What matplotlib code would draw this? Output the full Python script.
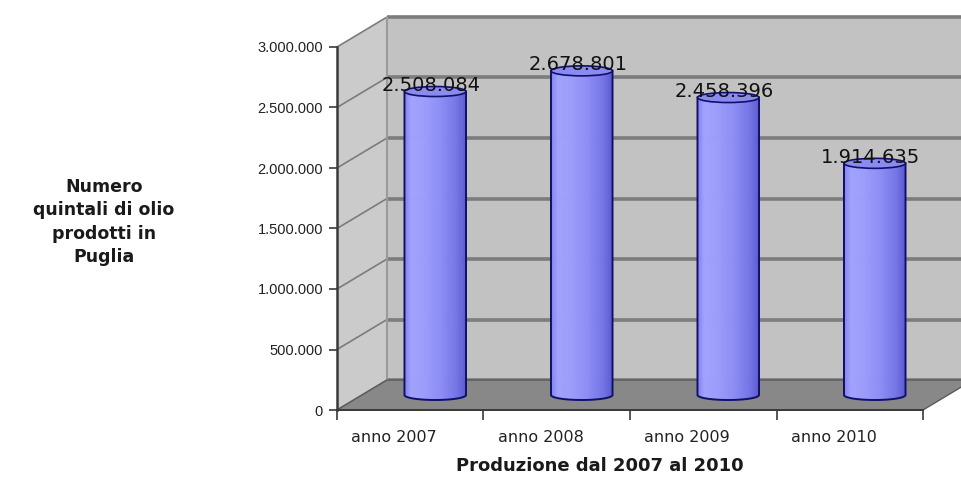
import numpy as np
import matplotlib
matplotlib.use("Agg")
import matplotlib.pyplot as plt
from matplotlib.patches import Polygon, Ellipse
from matplotlib.transforms import IdentityTransform, Affine2D

# ---- data -------------------------------------------------------------
categories = ["anno 2007", "anno 2008", "anno 2009", "anno 2010"]
values = [2508084, 2678801, 2458396, 1914635]
value_labels = ["2.508.084", "2.678.801", "2.458.396", "1.914.635"]
y_ticks = [0, 500000, 1000000, 1500000, 2000000, 2500000, 3000000]
y_tick_labels = ["0", "500.000", "1.000.000", "1.500.000",
                 "2.000.000", "2.500.000", "3.000.000"]
y_max = 3000000
x_title = "Produzione dal 2007 al 2010"
y_title = "Numero\nquintali di olio\nprodotti in\nPuglia"

# ---- figure / front plane --------------------------------------------
W, H = 962, 479
fig = plt.figure(figsize=(W / 100, H / 100), dpi=100)
fig.patch.set_facecolor("white")
ax = fig.add_axes([337 / W, 69 / H, 586 / W, 363 / H])
ax.set_xlim(0, len(categories))
ax.set_ylim(0, y_max)
ax.patch.set_visible(False)

DX, DY = 50, 30          # depth offset of the back plane, in pixels
IDT = IdentityTransform()


def proj(x, v, d):
    """Data point (x, v) pushed back by depth fraction d, in display pixels."""
    px, py = ax.transData.transform((x, v))
    return px + DX * d, py + DY * d


def poly(points, **kw):
    p = Polygon(points, closed=True, transform=IDT, clip_on=False, **kw)
    ax.add_patch(p)
    return p


def seg(p0, p1, **kw):
    ax.plot([p0[0], p1[0]], [p0[1], p1[1]], transform=IDT, clip_on=False,
            solid_capstyle="butt", **kw)


n = len(categories)
grid_c = "#7c7c7c"

# back wall
poly([proj(0, 0, 1), proj(n, 0, 1), proj(n, y_max, 1), proj(0, y_max, 1)],
     facecolor="#c2c2c2", edgecolor="none", zorder=0.5)
# side wall
poly([proj(0, 0, 0), proj(0, 0, 1), proj(0, y_max, 1), proj(0, y_max, 0)],
     facecolor="#cbcbcb", edgecolor="none", zorder=0.5)

# gridlines on back and side walls
for v in y_ticks:
    seg(proj(0, v, 1), proj(n, v, 1), color=grid_c, lw=2.6, zorder=0.6)
    seg(proj(0, v, 0), proj(0, v, 1), color=grid_c, lw=1.2, zorder=0.6)
seg(proj(0, 0, 1), proj(0, y_max, 1), color="#9a9a9a", lw=1.5, zorder=0.6)

# floor
poly([proj(0, 0, 0), proj(n, 0, 0), proj(n, 0, 1), proj(0, 0, 1)],
     facecolor="#888888", edgecolor="#5a5a5a", lw=1.0, zorder=0.7)

# ---- cylinders ---------------------------------------------------------
hw = 0.21               # half width of a cylinder in category units
b = 5.0                 # half height of the end ellipses, pixels
depth = 0.5
N = 48
shade_t = [0.0, 0.12, 0.35, 0.62, 0.86, 1.0]
shade_rgb = np.array([[128, 128, 236], [162, 162, 255], [156, 156, 252],
                      [140, 140, 246], [116, 116, 230], [92, 92, 208]]) / 255.0


def shade(t):
    return tuple(np.interp(t, shade_t, shade_rgb[:, c]) for c in range(3))


for i, v in enumerate(values):
    cx = i + 0.5
    xl, yb = proj(cx - hw, 0, depth)
    xr, _ = proj(cx + hw, 0, depth)
    _, yt = proj(cx, v, depth)
    xc, a = (xl + xr) / 2, (xr - xl) / 2
    edges = np.linspace(xl, xr, N + 1)
    for k in range(N):
        x0, x1 = edges[k], edges[k + 1]
        xs = np.array([x0, x1])
        ybot = yb - b * np.sqrt(np.clip(1 - ((xs - xc) / a) ** 2, 0, 1))
        col = shade((k + 0.5) / N)
        poly([(x0, ybot[0]), (x1, ybot[1]), (x1, yt), (x0, yt)],
             facecolor=col, edgecolor=col, lw=0.6, zorder=3)
    th = np.linspace(np.pi, 2 * np.pi, 80)
    ox = np.concatenate([[xl, xl], xc + a * np.cos(th), [xr, xr]])
    oy = np.concatenate([[yt, yb], yb + b * np.sin(th), [yb, yt]])
    ax.plot(ox, oy, color="#10106a", lw=1.4, transform=IDT, clip_on=False,
            zorder=3.2)
    ax.add_patch(Ellipse((xc, yt), 2 * a, 2 * b, facecolor="#8a8af0",
                         edgecolor="#10106a", lw=1.2, transform=IDT,
                         clip_on=False, zorder=3.3))

    # value label just above the cylinder top
    lab_tr = ax.transData + Affine2D().translate(DX * depth - 4, DY * depth + 6)
    ax.text(cx, v, value_labels[i], transform=lab_tr, ha="center",
            va="center", fontsize=14, family="DejaVu Sans",
            color="#111111", zorder=4, clip_on=False)

# ---- axes --------------------------------------------------------------
for s in ("top", "right"):
    ax.spines[s].set_visible(False)
ax.spines["left"].set_color("#3a3a3a")
ax.spines["left"].set_linewidth(1.8)
ax.spines["bottom"].set_color("#3a3a3a")
ax.spines["bottom"].set_linewidth(1.4)
ax.spines["left"].set_zorder(2)
ax.spines["bottom"].set_zorder(2)

ax.set_yticks(y_ticks)
ax.set_yticklabels(y_tick_labels, family="Liberation Sans", fontsize=10.5,
                   color="#222222")
ax.tick_params(axis="y", length=6, width=1.2, color="#3a3a3a", pad=4)

# category boundaries carry the tick marks; names sit under the front edge
ax.set_xticks(np.arange(n + 1))
ax.set_xticklabels([])
ax.tick_params(axis="x", length=7, width=1.2, color="#3a3a3a")
cat_tr = ax.transData + Affine2D().translate(-16, -27)
for i, name in enumerate(categories):
    ax.text(i + 0.5, 0, name, transform=cat_tr, ha="center", va="center",
            family="DejaVu Sans", fontsize=11.5, color="#222222",
            clip_on=False)

fig.text(600 / W, 1 - 466 / H, x_title, ha="center", va="center",
         family="DejaVu Sans", fontweight="bold", fontsize=13,
         color="#1a1a1a")
fig.text(104 / W, 1 - 222 / H, y_title, ha="center", va="center",
         family="DejaVu Sans", fontweight="bold", fontsize=12.5,
         linespacing=1.4, color="#1a1a1a", multialignment="center")

fig.savefig("out.png", dpi=100, facecolor="white")
